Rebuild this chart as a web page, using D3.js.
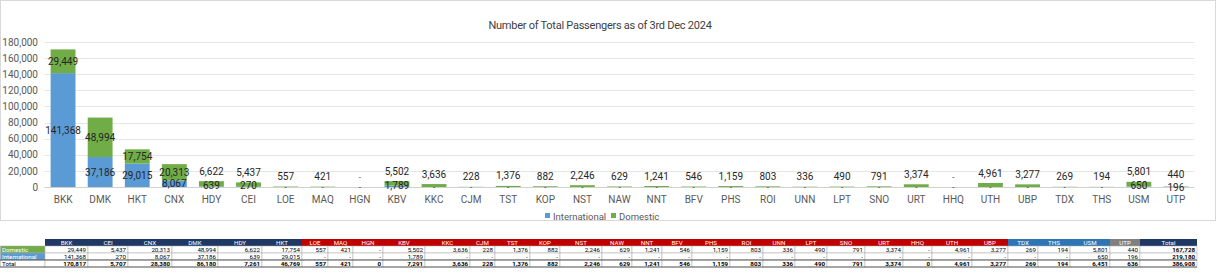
<!DOCTYPE html>
<html><head><meta charset="utf-8">
<script src="https://cdn.jsdelivr.net/npm/d3@7"></script>
<style>
html,body{margin:0;padding:0;background:#fff;}
svg{display:block;font-family:Roboto, "Open Sans", sans-serif;}
</style></head>
<body><svg id="chart" width="1216" height="280"></svg>
<script>
// ---------- DATA ----------
const title = "Number of Total Passengers as of 3rd Dec 2024";
const categories = ["BKK","DMK","HKT","CNX","HDY","CEI","LOE","MAQ","HGN","KBV","KKC","CJM","TST","KOP","NST","NAW","NNT","BFV","PHS","ROI","UNN","LPT","SNO","URT","HHQ","UTH","UBP","TDX","THS","USM","UTP"];
const domestic = [29449,48994,17754,20313,6622,5437,557,421,0,5502,3636,228,1376,882,2246,629,1241,546,1159,803,336,490,791,3374,0,4961,3277,269,194,5801,440];
const international = [141368,37186,29015,8067,639,270,0,0,0,1789,0,0,0,0,0,0,0,0,0,0,0,0,0,0,0,0,0,0,0,650,196];
const yTicks = [0,20000,40000,60000,80000,100000,120000,140000,160000,180000];
const seriesNames = ["International","Domestic"];
const tableOrder = ["BKK","CEI","CNX","DMK","HDY","HKT","LOE","MAQ","HGN","KBV","KKC","CJM","TST","KOP","NST","NAW","NNT","BFV","PHS","ROI","UNN","LPT","SNO","URT","HHQ","UTH","UBP","TDX","THS","USM","UTP"];
const tableGroup = ["a","a","a","a","a","a","b","b","b","b","b","b","b","b","b","b","b","b","b","b","b","b","b","b","b","b","b","c","c","c","d"];
const rowNames = ["Domestic","International","Total"];

// ---------- LAYOUT ----------
const W = 1216;
const colors = {International:"#5B9BD5", Domestic:"#70AD47"};
const groupColors = {a:"#1F3864", b:"#C00000", c:"#2E75B6", d:"#808080", t:"#1F3864"};
const colEdges = [45,88,128,172,218,262,302,328,353,383,425,470,495,530,560,602,632,662,692,730,763,795,827,865,903,932,972,1008,1038,1070,1110,1140,1197];
const rowEdges = [239,246,253,260,267];

const svg = d3.select("#chart");
const fmt = d3.format(",");

// chart border
svg.append("rect").attr("x",0.5).attr("y",0.5).attr("width",W-1).attr("height",220)
  .attr("fill","#fff").attr("stroke","#d9d9d9");

// title
svg.append("text").attr("x",600).attr("y",25).attr("text-anchor","middle")
  .attr("dominant-baseline","central").attr("font-size",11).attr("fill","#404040")
  .attr("letter-spacing",-0.25).text(title);

const x = d3.scaleBand().domain(categories).range([44.5,1194.5]).paddingInner(0.33).paddingOuter(0.165);
const y = d3.scaleLinear().domain([0,180000]).range([187,42]);

// gridlines
svg.append("g").selectAll("line").data(yTicks).join("line")
  .attr("x1",44.5).attr("x2",1194.5)
  .attr("y1",d=>Math.round(y(d))+0.5).attr("y2",d=>Math.round(y(d))+0.5)
  .attr("stroke",d=>d===0?"#d0d0d0":"#e6e6e6");

// y axis
const yAxis = svg.append("g").attr("transform","translate(40,0)")
  .call(d3.axisLeft(y).tickValues(yTicks).tickFormat(fmt).tickSize(0).tickPadding(2));
yAxis.select(".domain").remove();
yAxis.selectAll("text").attr("font-size",10).attr("fill","#595959").attr("font-family","Roboto, sans-serif");

// x axis
const xAxis = svg.append("g").attr("transform","translate(0,194)")
  .call(d3.axisBottom(x).tickSize(0).tickPadding(2));
xAxis.select(".domain").remove();
xAxis.selectAll("text").attr("font-size",10).attr("fill","#595959").attr("font-family","Roboto, sans-serif");

// stacked bars
const rows = categories.map((c,i)=>({cat:c, International:international[i], Domestic:domestic[i]}));
const stack = d3.stack().keys(seriesNames)(rows);
svg.append("g").selectAll("g").data(stack).join("g")
  .attr("fill",d=>colors[d.key])
  .selectAll("rect").data(d=>d).join("rect")
  .attr("x",d=>x(d.data.cat)).attr("width",x.bandwidth())
  .attr("y",d=>y(d[1])).attr("height",d=>Math.max(0,y(d[0])-y(d[1])));

// labels
const lab = svg.append("g").attr("font-size",10).attr("fill","#262626").attr("text-anchor","middle");
const sInt = stack[0], sDom = stack[1];
categories.forEach((c,i)=>{
  const dI = sInt[i], dD = sDom[i];
  const vI = dI[1]-dI[0], vD = dD[1]-dD[0];
  const cx = x(c)+x.bandwidth()/2;
  let yI = vI===0 ? 187.5 : Math.min((y(dI[0])+y(dI[1]))/2, 185);
  const hD = y(dD[0])-y(dD[1]);
  const outside = hD < 10;
  let yD = outside ? y(dD[1])-10 : (y(dD[0])+y(dD[1]))/2;
  if (outside && vI>0 && vD>0 && yI - yD < 12.5) { yI = 187.5; yD = yI - 12.8; }
  [[vI,yI],[vD,yD]].forEach(([v,yy])=>{
    lab.append("text").attr("x",cx).attr("y",yy).attr("dominant-baseline","central")
      .attr("font-size", v===0?8:10).text(v===0?"-":fmt(v));
  });
});

// legend
const leg = svg.append("g").attr("font-size",9.5).attr("fill","#595959");
const legX = [545,611];
seriesNames.forEach((n,i)=>{
  leg.append("rect").attr("x",legX[i]).attr("y",213).attr("width",5).attr("height",5).attr("fill",colors[n]);
  leg.append("text").attr("x",legX[i]+8).attr("y",216).attr("dominant-baseline","central").text(n);
});

// ---------- TABLE ----------
const tbl = svg.append("g").attr("font-size",6.2);
const idx = c=>categories.indexOf(c);
const tDom = tableOrder.map(c=>domestic[idx(c)]);
const tInt = tableOrder.map(c=>international[idx(c)]);
const tTot = tableOrder.map((c,i)=>tDom[i]+tInt[i]);
const colNames = tableOrder.concat(["Total"]);
const grp = tableGroup.concat(["t"]);
const rowVals = [
  tDom.concat([d3.sum(tDom)]),
  tInt.concat([d3.sum(tInt)]),
  tTot.concat([d3.sum(tTot)])
];

// header
colNames.forEach((c,i)=>{
  const x0 = colEdges[i], x1 = colEdges[i+1];
  tbl.append("rect").attr("x",x0).attr("y",rowEdges[0]).attr("width",x1-x0).attr("height",rowEdges[1]-rowEdges[0]).attr("fill",groupColors[grp[i]]);
  tbl.append("text").attr("x",(x0+x1)/2).attr("y",(rowEdges[0]+rowEdges[1])/2+0.3).attr("text-anchor","middle")
    .attr("dominant-baseline","central").attr("fill","#fff").text(c);
});
// row label cells
const labelBg = ["#70AD47","#5B9BD5","#ffffff"];
const labelFg = ["#fff","#fff","#000"];
rowNames.forEach((r,ri)=>{
  const y0 = rowEdges[ri+1], y1 = rowEdges[ri+2];
  tbl.append("rect").attr("x",0.5).attr("y",y0).attr("width",44.5).attr("height",y1-y0).attr("fill",labelBg[ri]).attr("stroke","#a6a6a6").attr("stroke-width",0.5);
  tbl.append("text").attr("x",2).attr("y",(y0+y1)/2+0.3).attr("dominant-baseline","central").attr("fill",labelFg[ri]).text(r);
  colNames.forEach((c,ci)=>{
    const x0 = colEdges[ci], x1 = colEdges[ci+1];
    tbl.append("rect").attr("x",x0).attr("y",y0).attr("width",x1-x0).attr("height",y1-y0).attr("fill","#fff").attr("stroke","#a6a6a6").attr("stroke-width",0.5);
    const v = rowVals[ri][ci];
    tbl.append("text").attr("x",x1-2).attr("y",(y0+y1)/2+0.3).attr("text-anchor","end")
      .attr("dominant-baseline","central").attr("fill","#000")
      .attr("font-weight", ri===2||ci===colNames.length-1 ? "bold":"normal")
      .text(ri<2 && v===0 ? "-" : fmt(v));
  });
});
// total row borders
[rowEdges[3], rowEdges[4]].forEach(yy=>{
  tbl.append("line").attr("x1",0).attr("x2",colEdges[colEdges.length-1]).attr("y1",yy).attr("y2",yy).attr("stroke","#404040").attr("stroke-width",0.8);
});
</script></body></html>
